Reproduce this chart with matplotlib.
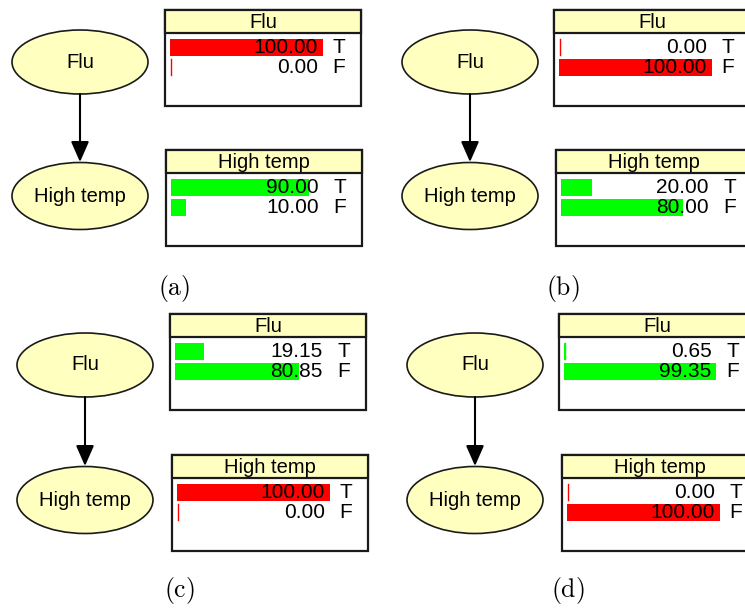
import matplotlib
matplotlib.use("Agg")
import matplotlib.pyplot as plt
from matplotlib.patches import Ellipse, Rectangle

# data: posterior beliefs (percent) shown in each panel
panel_labels = ["(a)", "(b)", "(c)", "(d)"]
node_names = ["Flu", "High temp"]
states = ["T", "F"]
flu_true = [100.00, 0.00, 19.15, 0.65]
flu_false = [0.00, 100.00, 80.85, 99.35]
temp_true = [90.00, 20.00, 100.00, 0.00]
temp_false = [10.00, 80.00, 0.00, 100.00]
flu_observed = [True, True, False, False]
temp_observed = [False, False, True, True]

W, H = 745, 611
yellow = "#ffffc0"
red = "#ff0000"
green = "#00ff00"
edge = "#1a1a1a"

plt.rcParams["font.family"] = ["Liberation Sans", "DejaVu Sans"]

fig = plt.figure(figsize=(W / 100, H / 100), dpi=100)
ax = fig.add_axes([0, 0, 1, 1])
ax.set_xlim(0, W)
ax.set_ylim(H, 0)
ax.axis("off")

# layout per panel: ellipse x, flu ellipse y, temp ellipse y,
# flu box (left, top), temp box (left, top), caption (x, y)
layout = [
    dict(ex=80, fy=62, ty=196, fbox=(165, 10), tbox=(166, 150), cap=(174, 289)),
    dict(ex=470, fy=62, ty=196, fbox=(554, 10), tbox=(556, 150), cap=(563, 289)),
    dict(ex=85, fy=365, ty=500, fbox=(170, 314), tbox=(172, 455), cap=(179, 590)),
    dict(ex=475, fy=365, ty=500, fbox=(559, 314), tbox=(562, 455), cap=(568, 590)),
]


def draw_monitor(left, top, name, values, observed):
    bw, bh, hh = 196, 96, 23
    ax.add_patch(Rectangle((left, top), bw, bh, facecolor="white",
                           edgecolor=edge, lw=1.6, zorder=1))
    ax.add_patch(Rectangle((left, top), bw, hh, facecolor=yellow,
                           edgecolor=edge, lw=1.6, zorder=2))
    ax.text(left + bw / 2, top + hh / 2 + 1, name, ha="center", va="center",
            fontsize=14.5, zorder=3)

    # bars drawn in their own axes, 0..100 percent
    bx = left + 5
    by = top + 27
    bax = fig.add_axes([bx / W, 1 - (by + 40) / H, 153 / W, 40 / H])
    bax.set_xlim(0, 100)
    bax.set_ylim(1.5, -0.5)
    bax.axis("off")
    bax.patch.set_alpha(0)
    color = red if observed else green
    bax.barh([0, 1], values, height=0.85, color=color, left=0)
    # zero-valued bars still get a thin tick
    for i, v in enumerate(values):
        if v < 0.7:
            bax.plot([0.4, 0.4], [i - 0.42, i + 0.42], color=color, lw=1)
        bax.text(96.5, i + 0.04, "%.2f" % v, ha="right", va="center",
                 fontsize=15, clip_on=False)
        bax.text(106, i + 0.04, states[i], ha="left", va="center",
                 fontsize=15, clip_on=False)


for k, lab in enumerate(panel_labels):
    L = layout[k]
    ex = L["ex"]
    ax.add_patch(Ellipse((ex, L["fy"]), 136, 64, facecolor=yellow,
                         edgecolor=edge, lw=1.2, zorder=2))
    ax.add_patch(Ellipse((ex, L["ty"]), 136, 67, facecolor=yellow,
                         edgecolor=edge, lw=1.2, zorder=2))
    ax.text(ex, L["fy"], node_names[0], ha="center", va="center", fontsize=14.5, zorder=3)
    ax.text(ex, L["ty"], node_names[1], ha="center", va="center", fontsize=14.5, zorder=3)
    ax.annotate("", xy=(ex, L["ty"] - 34), xytext=(ex, L["fy"] + 32),
                arrowprops=dict(arrowstyle="-|>,head_length=1.25,head_width=0.55",
                                mutation_scale=10, color="black", lw=1.5,
                                shrinkA=0, shrinkB=0), zorder=3)

    draw_monitor(L["fbox"][0], L["fbox"][1], node_names[0],
                 [flu_true[k], flu_false[k]], flu_observed[k])
    draw_monitor(L["tbox"][0], L["tbox"][1], node_names[1],
                 [temp_true[k], temp_false[k]], temp_observed[k])

    ax.text(L["cap"][0], L["cap"][1], r"$\mathrm{%s}$" % lab, ha="center",
            va="center", fontsize=18.5, math_fontfamily="cm")

fig.savefig("out.png", dpi=100)
